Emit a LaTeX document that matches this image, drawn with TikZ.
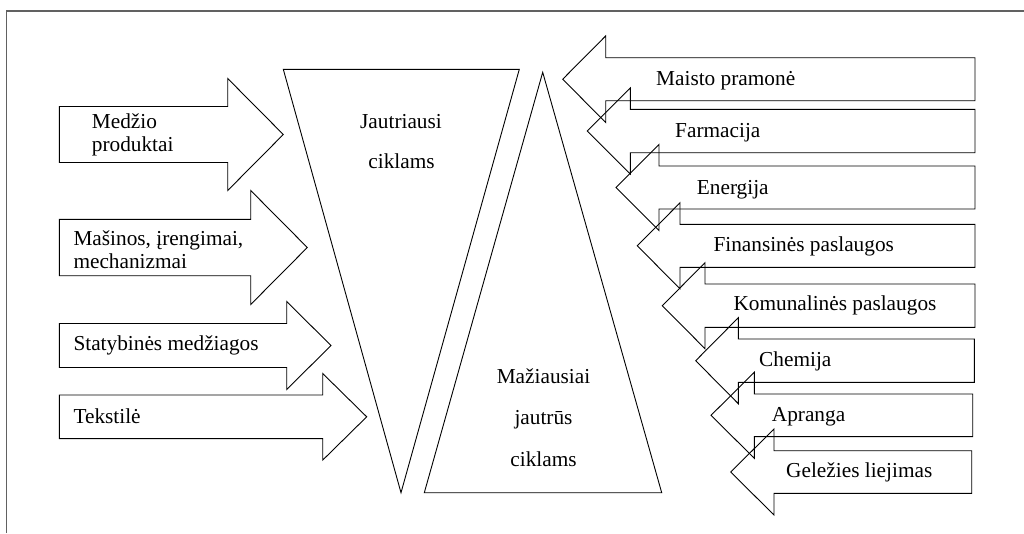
\documentclass[tikz,border=0pt]{standalone}
\usepackage{fontspec}
\setmainfont{Liberation Serif}
\newfontfamily\labelface{Liberation Serif}
\begin{document}
\begin{tikzpicture}[x=1pt,y=-1pt,
  blockarrow/.style={draw=black,line width=0.9pt,line join=miter},
  wedge/.style={draw=black,line width=0.9pt},
  frameline/.style={draw=black!62,line width=1.3pt},
  lbl/.style={inner sep=0pt,font=\labelface\fontsize{21.3}{24}\selectfont}]
\useasboundingbox (0,0) rectangle (1024,533);

% outer frame (top and left edges only)
\draw[frameline] (6.7,533) -- (6.7,11) -- (1024,11);

% block arrow pointing right: left x, centre y, shaft half, head base x, head half, tip x
\newcommand\arrowright[6]{%
  \draw[blockarrow] (#1,{#2-#3}) -- (#4,{#2-#3}) -- (#4,{#2-#5}) -- (#6,#2)
    -- (#4,{#2+#5}) -- (#4,{#2+#3}) -- (#1,{#2+#3}) -- cycle;}
% block arrow pointing left: right x, centre y, shaft half, head base x, head half, tip x
\newcommand\arrowleft[6]{%
  \draw[blockarrow] (#1,{#2-#3}) -- (#4,{#2-#3}) -- (#4,{#2-#5}) -- (#6,#2)
    -- (#4,{#2+#5}) -- (#4,{#2+#3}) -- (#1,{#2+#3}) -- cycle;}

% left-hand industries
\arrowright{59.3}{134.5}{28}{227.7}{56}{283.3}
\arrowright{59.3}{247.5}{28.2}{250.7}{57}{307.3}
\arrowright{59.3}{345.5}{22}{286.7}{44}{331}
\arrowright{59.3}{416.8}{21.8}{322.7}{43.3}{366.7}

\node[lbl,anchor=base west] (medz1) at (91.7,128.3) {Medžio};
\node[lbl,anchor=base west] (medz2) at (91.7,151.7) {produktai};
\node[lbl,anchor=base west] (mas1) at (73.3,245) {Mašinos, įrengimai,};
\node[lbl,anchor=base west] (mas2) at (73.3,268.5) {mechanizmai};
\node[lbl,anchor=base west] (stat) at (73.3,350.7) {Statybinės medžiagos};
\node[lbl,anchor=base west] (teks) at (73.3,423.3) {Tekstilė};

% the two wedges
\draw[wedge] (283.3,69.3) -- (519.3,69.3) -- (401,492.7) -- cycle;
\draw[wedge] (542.7,72.3) -- (661.7,492.7) -- (424.3,492.7) -- cycle;

\node[lbl,anchor=base] (jaut1) at (401,128) {Jautriausi};
\node[lbl,anchor=base] (jaut2) at (401.5,168) {ciklams};
\node[lbl,anchor=base] (maz1) at (543.5,383) {Mažiausiai};
\node[lbl,anchor=base] (maz2) at (543.5,424.5) {jautrūs};
\node[lbl,anchor=base] (maz3) at (543.5,466) {ciklams};

% right-hand industries
\arrowleft{975}{79.2}{21.5}{605.7}{43.3}{562.7}
\arrowleft{975}{131}{21.7}{630.3}{43}{587.3}
\arrowleft{975}{187.5}{21.5}{659}{43}{616}
\arrowleft{975}{245.8}{21.5}{680}{43}{637.3}
\arrowleft{975}{305.7}{21.7}{705}{43}{662.3}
\arrowleft{974.3}{360.7}{21.7}{738.3}{43}{695.7}
\arrowleft{972.7}{415.3}{21.3}{754.3}{43}{711}
\arrowleft{971.7}{472}{21.3}{774}{43}{730.7}

\node[lbl,anchor=base west] (maist) at (656,85) {Maisto pramonė};
\node[lbl,anchor=base west] (farm) at (675,137.3) {Farmacija};
\node[lbl,anchor=base west] (ener) at (696.7,194) {Energija};
\node[lbl,anchor=base west] (fin) at (713.3,251.7) {Finansinės paslaugos};
\node[lbl,anchor=base west] (kom) at (733.3,310.7) {Komunalinės paslaugos};
\node[lbl,anchor=base west] (chem) at (759,366) {Chemija};
\node[lbl,anchor=base west] (apr) at (771.7,421.7) {Apranga};
\node[lbl,anchor=base west] (gel) at (786,477.3) {Geležies liejimas};
\end{tikzpicture}
\end{document}
